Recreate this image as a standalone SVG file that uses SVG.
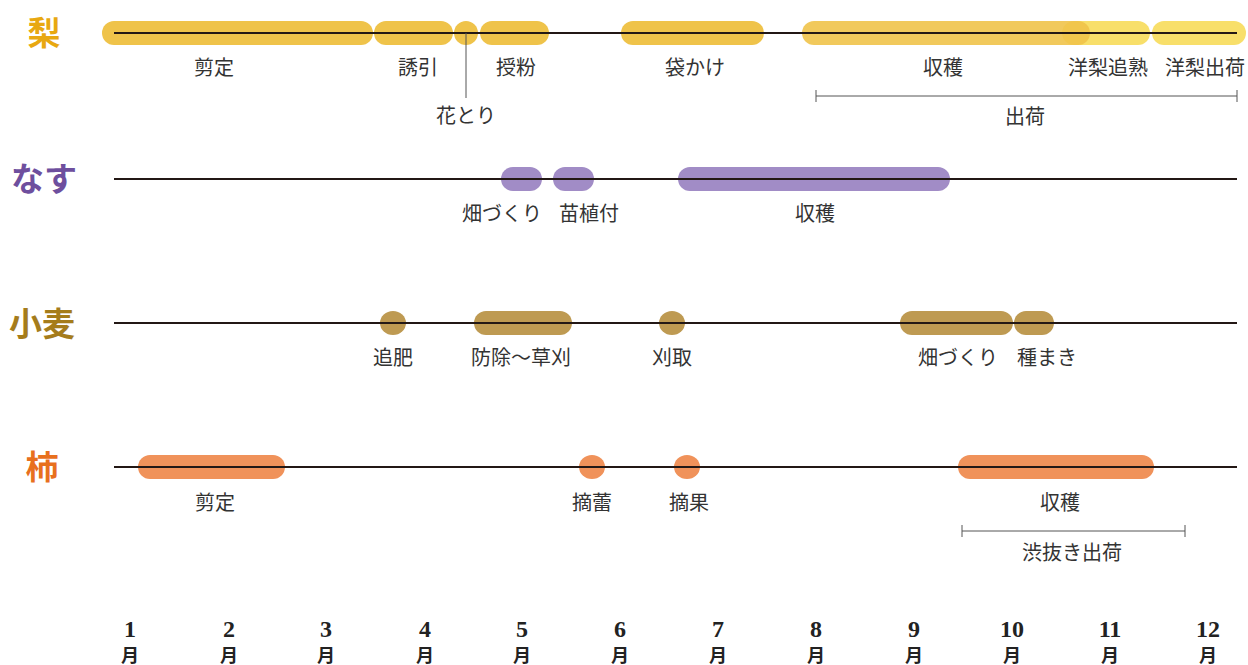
<svg xmlns="http://www.w3.org/2000/svg" width="1248" height="665" viewBox="0 0 1248 665">
<style>
.axis{stroke:#231815;stroke-width:2;fill:none}
.thin{stroke:#555;stroke-width:1;fill:none}
.lbl{font-family:"Noto Sans CJK JP",sans-serif;font-size:20px;fill:#333;text-anchor:middle}
.ttl{font-family:"Noto Sans CJK JP",sans-serif;font-size:33px;font-weight:bold;text-anchor:middle}
.mon{font-family:"Liberation Serif","Noto Sans CJK JP",serif;font-size:24px;font-weight:bold;fill:#222;text-anchor:middle}
.mj{font-family:"Noto Sans CJK JP",sans-serif;font-size:18px;font-weight:bold;fill:#222;text-anchor:middle}
.pear{fill:#EFC34A}
.pear2{fill:#F8DF6A}
.nasu{fill:#A18CC6}
.wheat{fill:#BE9A52}
.kaki{fill:#F0925A}
</style>
<g id="pear">
<text class="ttl" x="44" y="45" fill="#E8A811">梨</text>
<rect class="pear" x="102" y="21" width="271" height="24" rx="12"/>
<rect class="pear" x="374" y="21" width="79" height="24" rx="12"/>
<circle class="pear" cx="466" cy="33" r="12"/>
<rect class="pear" x="480" y="21" width="69" height="24" rx="12"/>
<rect class="pear" x="621" y="21" width="143" height="24" rx="12"/>
<rect class="pear2" x="1152" y="21" width="94" height="24" rx="12"/>
<rect class="pear2" x="1062" y="21" width="88" height="24" rx="12"/>
<rect class="pear" x="802" y="21" width="288" height="24" rx="12" opacity="0.9"/>
<line class="axis" x1="114" y1="33" x2="1237" y2="33"/>
<line class="thin" x1="466" y1="33" x2="466" y2="98"/>
<line class="thin" x1="816" y1="96" x2="1237" y2="96"/>
<line class="thin" x1="816" y1="90" x2="816" y2="102"/>
<line class="thin" x1="1237" y1="90" x2="1237" y2="102"/>
<text class="lbl" x="214" y="75">剪定</text>
<text class="lbl" x="418" y="75">誘引</text>
<text class="lbl" x="516" y="75">授粉</text>
<text class="lbl" x="466" y="123">花とり</text>
<text class="lbl" x="695" y="75">袋かけ</text>
<text class="lbl" x="943" y="75">収穫</text>
<text class="lbl" x="1108" y="75">洋梨追熟</text>
<text class="lbl" x="1205" y="75">洋梨出荷</text>
<text class="lbl" x="1025" y="124">出荷</text>
</g>
<g id="nasu">
<text class="ttl" x="44" y="191" fill="#6E4F9E">なす</text>
<rect class="nasu" x="501" y="167" width="41" height="24" rx="12"/>
<rect class="nasu" x="553" y="167" width="41" height="24" rx="12"/>
<rect class="nasu" x="678" y="167" width="272" height="24" rx="12"/>
<line class="axis" x1="114" y1="179" x2="1237" y2="179"/>
<text class="lbl" x="502" y="221">畑づくり</text>
<text class="lbl" x="589" y="221">苗植付</text>
<text class="lbl" x="815" y="221">収穫</text>
</g>
<g id="wheat">
<text class="ttl" x="42" y="336" fill="#A57C1B">小麦</text>
<ellipse class="wheat" cx="393" cy="323" rx="13" ry="12"/>
<rect class="wheat" x="474" y="311" width="98" height="24" rx="12"/>
<ellipse class="wheat" cx="672" cy="323" rx="13" ry="12"/>
<rect class="wheat" x="900" y="311" width="113" height="24" rx="12"/>
<rect class="wheat" x="1014" y="311" width="40" height="24" rx="12"/>
<line class="axis" x1="114" y1="323" x2="1237" y2="323"/>
<text class="lbl" x="393" y="365">追肥</text>
<text class="lbl" x="521" y="365">防除～草刈</text>
<text class="lbl" x="672" y="365">刈取</text>
<text class="lbl" x="958" y="365">畑づくり</text>
<text class="lbl" x="1047" y="365">種まき</text>
</g>
<g id="kaki">
<text class="ttl" x="42" y="479" fill="#E8701E">柿</text>
<rect class="kaki" x="138" y="455" width="147" height="24" rx="12"/>
<ellipse class="kaki" cx="592" cy="467" rx="13" ry="12"/>
<ellipse class="kaki" cx="687" cy="467" rx="13" ry="12"/>
<rect class="kaki" x="958" y="455" width="196" height="24" rx="12"/>
<line class="axis" x1="114" y1="467" x2="1237" y2="467"/>
<line class="thin" x1="962" y1="531" x2="1185" y2="531"/>
<line class="thin" x1="962" y1="525" x2="962" y2="537"/>
<line class="thin" x1="1185" y1="525" x2="1185" y2="537"/>
<text class="lbl" x="215" y="510">剪定</text>
<text class="lbl" x="592" y="510">摘蕾</text>
<text class="lbl" x="689" y="510">摘果</text>
<text class="lbl" x="1060" y="510">収穫</text>
<text class="lbl" x="1072" y="560">渋抜き出荷</text>
</g>
<g id="months">
<text class="mon" x="130" y="637">1</text><text class="mj" x="130" y="662">月</text>
<text class="mon" x="229" y="637">2</text><text class="mj" x="229" y="662">月</text>
<text class="mon" x="326" y="637">3</text><text class="mj" x="326" y="662">月</text>
<text class="mon" x="425" y="637">4</text><text class="mj" x="425" y="662">月</text>
<text class="mon" x="522" y="637">5</text><text class="mj" x="522" y="662">月</text>
<text class="mon" x="620" y="637">6</text><text class="mj" x="620" y="662">月</text>
<text class="mon" x="718" y="637">7</text><text class="mj" x="718" y="662">月</text>
<text class="mon" x="816" y="637">8</text><text class="mj" x="816" y="662">月</text>
<text class="mon" x="914" y="637">9</text><text class="mj" x="914" y="662">月</text>
<text class="mon" x="1012" y="637">10</text><text class="mj" x="1012" y="662">月</text>
<text class="mon" x="1110" y="637">11</text><text class="mj" x="1110" y="662">月</text>
<text class="mon" x="1208" y="637">12</text><text class="mj" x="1208" y="662">月</text>
</g>
</svg>
